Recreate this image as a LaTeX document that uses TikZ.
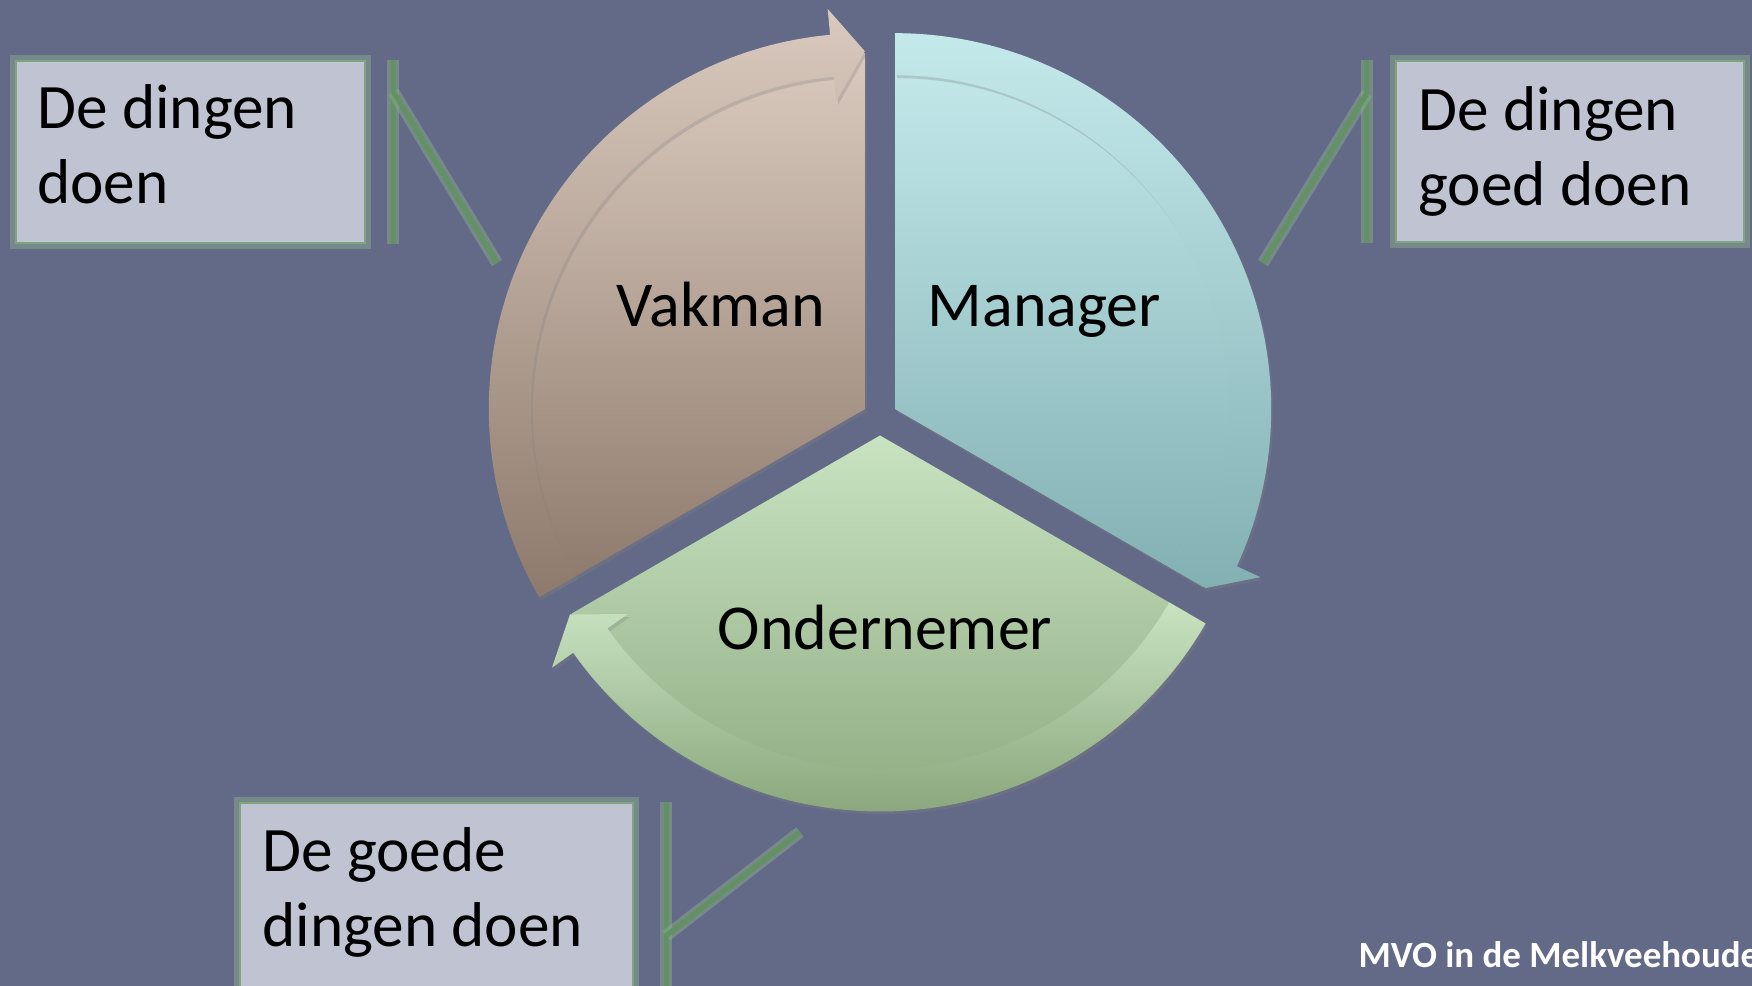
\documentclass[tikz,border=0pt]{standalone}
\usepackage{fontspec}
\setmainfont{Carlito}
\usetikzlibrary{calc,shadows}

\definecolor{bgblue}{RGB}{99,106,135}
\definecolor{boxfill}{RGB}{192,196,210}
\definecolor{edgegreen}{RGB}{128,164,128}
\definecolor{glowgreen}{RGB}{140,178,140}
\definecolor{linegreen}{RGB}{98,145,98}
\definecolor{vaktop}{RGB}{218,201,190}
\definecolor{vakbot}{RGB}{141,122,108}
\definecolor{mantop}{RGB}{196,233,235}
\definecolor{manbot}{RGB}{130,176,179}
\definecolor{ondtop}{RGB}{201,227,193}
\definecolor{ondbot}{RGB}{138,167,125}

\tikzset{
  segshadow/.style={drop shadow={shadow xshift=.02cm, shadow yshift=-.03cm, opacity=.3}},
  seglabel/.style={font=\fontsize{18.2pt}{21.3pt}\selectfont, inner sep=0pt, anchor=base west},
  textbox/.style={rectangle, fill=boxfill, draw=edgegreen, line width=.025cm, inner sep=0pt,
    preaction={draw=glowgreen, line width=.12cm, draw opacity=.45}},
  boxtext/.style={font=\fontsize{18pt}{21.3pt}\selectfont, align=left, inner sep=0pt, anchor=base west},
  callout/.style={draw=linegreen, line width=.05cm,
    preaction={draw=glowgreen, line width=.12cm, draw opacity=.45}},
  footer/.style={font=\fontsize{10.5pt}{12pt}\selectfont\bfseries, text=white, inner sep=0pt, anchor=base west}
}

\begin{document}
\begin{tikzpicture}[x=.01cm, y=.01cm]
    \useasboundingbox (0,0) rectangle (1752,986);
    \fill[bgblue] (0,0) rectangle (1752,986);

    % Vakman
    \begin{scope}[shift={(864.8,576.8)}]
        \path[segshadow, top color=vaktop, bottom color=vakbot] (0,0) -- (210:356) arc[start angle=210, end angle=90, radius=356] -- cycle;
        \path[segshadow, top color=vaktop, bottom color=vakbot] (210:334) -- (210:376) arc[start angle=210, end angle=95.3, radius=376] -- (95.3:402) -- (90:358) -- (95.3:309) -- (95.3:334) arc[start angle=95.3, end angle=210, radius=334] -- cycle;
    \end{scope}
    % Manager
    \begin{scope}[shift={(895.2,576.8)}]
        \path[segshadow, top color=mantop, bottom color=manbot] (0,0) -- (90:356) arc[start angle=90, end angle=-30, radius=356] -- cycle;
        \path[segshadow, top color=mantop, bottom color=manbot] (90:334) -- (90:376) arc[start angle=90, end angle=-24.7, radius=376] -- (-24.7:402) -- (-30:358) -- (-24.7:309) -- (-24.7:334) arc[start angle=-24.7, end angle=90, radius=334] -- cycle;
    \end{scope}
    % Ondernemer
    \begin{scope}[shift={(880,550.5)}]
        \path[segshadow, top color=ondtop, bottom color=ondbot] (0,0) -- (-30:356) arc[start angle=-30, end angle=-150, radius=356] -- cycle;
        \path[segshadow, top color=ondtop, bottom color=ondbot] (-30:334) -- (-30:376) arc[start angle=-30, end angle=-144.7, radius=376] -- (-144.7:402) -- (-150:358) -- (-144.7:309) -- (-144.7:334) arc[start angle=-144.7, end angle=-30, radius=334] -- cycle;
    \end{scope}

    \node[seglabel] (vakman) at (616,659) {Vakman};
    \node[seglabel] (manager) at (927,659) {Manager};
    \node[seglabel] (ondernemer) at (717,336) {Ondernemer};

    % boxes with their callouts
    \node[textbox, minimum width=3.49cm, minimum height=1.82cm] (doenbox) at (190.5,834) {};
    \node[boxtext] (doentext) at ([shift={(22,-144)}]doenbox.north west) {De dingen\\doen};
    \coordinate (doenhook) at ($(doenbox.north east)+(27,-32)$);
    \coordinate (doentip) at (497,723);
    \draw[callout] ($(doenbox.north east)+(27,0)$) -- ($(doenbox.south east)+(27,0)$);
    \draw[callout] (doenhook) -- (doentip);

    \node[textbox, minimum width=3.48cm, minimum height=1.81cm] (goedbox) at (1570,834.5) {};
    \node[boxtext] (goedtext) at ([shift={(23,-146)}]goedbox.north west) {De dingen\\goed doen};
    \coordinate (goedhook) at ($(goedbox.north west)+(-28,-34)$);
    \coordinate (goedtip) at (1263,723);
    \draw[callout] ($(goedbox.north west)+(-28,0)$) -- ($(goedbox.south west)+(-28,0)$);
    \draw[callout] (goedhook) -- (goedtip);

    \node[textbox, minimum width=3.93cm, minimum height=2.03cm] (goedebox) at (436.5,81.5) {};
    \node[boxtext] (goedetext) at ([shift={(23,-145)}]goedebox.north west) {De goede\\dingen doen};
    \coordinate (goedehook) at ($(goedebox.north east)+(32,-134)$);
    \coordinate (goedetip) at (800,154);
    \draw[callout] ($(goedebox.north east)+(32,0)$) -- ($(goedebox.south east)+(32,0)$);
    \draw[callout] (goedehook) -- (goedetip);

    \node[footer] (mvo) at (1358,18) {MVO in de Melkveehoude};
\end{tikzpicture}
\end{document}
